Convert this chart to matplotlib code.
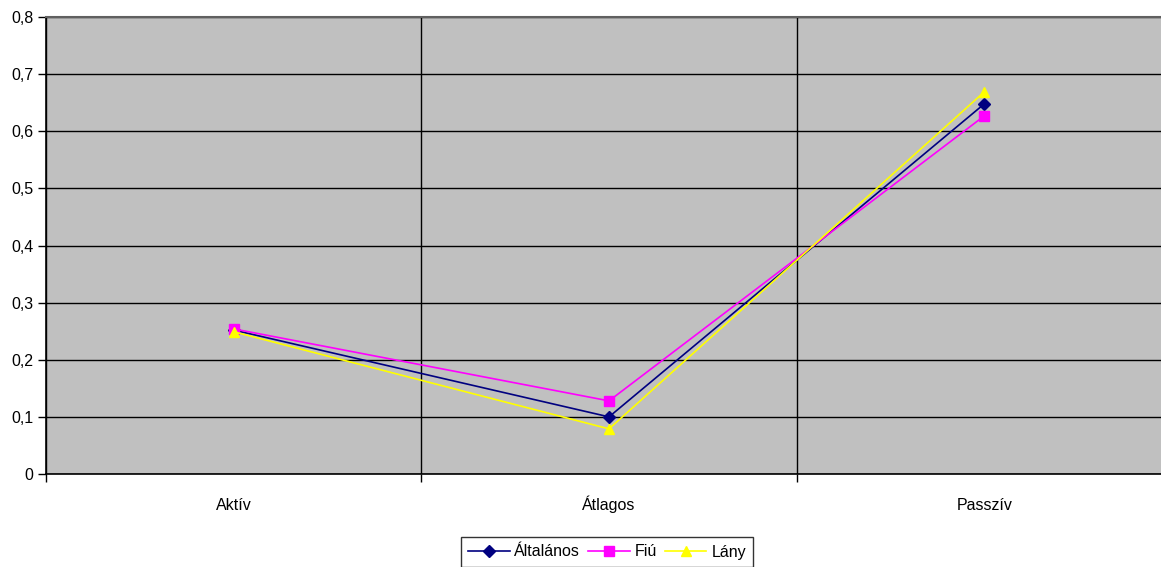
import matplotlib.pyplot as plt
from matplotlib.ticker import FuncFormatter, MultipleLocator

categories = ["Aktív", "Átlagos", "Passzív"]
altalanos = [0.252, 0.100, 0.648]
fiu = [0.254, 0.128, 0.627]
lany = [0.249, 0.079, 0.669]

plt.rcParams["font.family"] = ["Liberation Sans", "DejaVu Sans"]

W, H = 1161, 567
fig = plt.figure(figsize=(W / 100, H / 100), dpi=100)
ax = fig.add_axes([46 / W, (H - 474) / H, (1172 - 46) / W, (474 - 17) / H])
ax.set_facecolor("#C0C0C0")

x = range(len(categories))
ax.plot(x, altalanos, color="#000080", marker="D", markersize=6, lw=1.2, label="Általános", zorder=3)
ax.plot(x, fiu, color="#FF00FF", marker="s", markersize=6.5, lw=1.2, label="Fiú", zorder=3)
ax.plot(x, lany, color="#FFFF00", marker="^", markersize=7.5, lw=1.2, label="Lány", zorder=4)

ax.set_xlim(-0.5, 2.5)
ax.set_ylim(0, 0.8)
ax.yaxis.set_major_locator(MultipleLocator(0.1))
ax.yaxis.set_major_formatter(FuncFormatter(lambda v, p: "0" if abs(v) < 1e-9 else f"{v:.1f}".replace(".", ",")))

ax.set_xticks([-0.5, 0.5, 1.5, 2.5])
ax.set_xticklabels([])
ax.set_xticks(list(x), minor=True)
ax.set_xticklabels(categories, minor=True)
ax.tick_params(axis="x", which="minor", length=0, pad=26, labelsize=11.5)
for lbl in ax.get_xticklabels(minor=True):
    lbl.set_verticalalignment("baseline")
ax.tick_params(axis="x", which="major", length=6, width=1, color="black", direction="out")
ax.tick_params(axis="y", length=6, width=1, color="black", direction="out", labelsize=11.5, pad=3)

ax.grid(axis="y", color="black", lw=1)
ax.grid(axis="x", which="major", color="black", lw=1)
ax.set_axisbelow(True)

for side in ["top", "right"]:
    ax.spines[side].set_color("#606060")
    ax.spines[side].set_linewidth(1.5)
ax.spines["left"].set_linewidth(1.2)
ax.spines["bottom"].set_linewidth(1.2)

leg = fig.legend(loc="center", bbox_to_anchor=(607 / W, (H - 552) / H), ncol=3, frameon=True,
                 fancybox=False, edgecolor="black", fontsize=11.5, handlelength=2.6,
                 columnspacing=0.5, handletextpad=0.3, borderpad=0.45)
leg.get_frame().set_linewidth(1)

fig.savefig("out.png", dpi=100)
